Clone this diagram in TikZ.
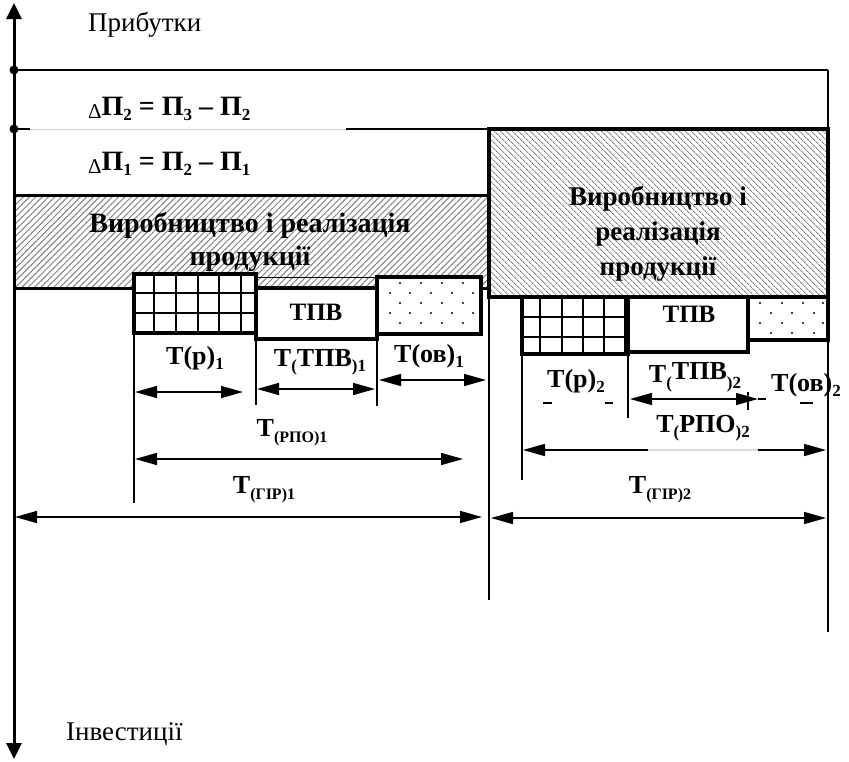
\documentclass[tikz,border=0pt]{standalone}
\usepackage{fontspec}
\setmainfont{Liberation Serif}
\usetikzlibrary{arrows.meta,patterns.meta}
\newcommand{\lsub}[1]{\raisebox{-0.45ex}{\fontsize{17}{17}\selectfont #1}}
\newcommand{\ssub}[1]{\raisebox{-0.5ex}{\fontsize{16}{16}\selectfont #1}}
\newcommand{\dlt}{\raisebox{-0.25ex}{\fontsize{21}{21}\selectfont\mdseries Δ}}
\tikzset{
  thickbox/.style={draw=black,line width=3.5pt,fill=white},
  boxedge/.style={draw=black,line width=3.5pt},
  gridln/.style={line width=1.8pt},
  dim/.style={line width=1.5pt,{Triangle[length=22pt,width=12pt]}-{Triangle[length=22pt,width=12pt]}},
  dimtk/.style={line width=1.5pt},
  lbl/.style={font=\fontsize{26}{26}\selectfont\bfseries,inner sep=0pt},
  boxtxt/.style={font=\fontsize{28}{28}\selectfont\bfseries,inner sep=0pt,anchor=base},
  plain/.style={font=\fontsize{27}{27}\selectfont,inner sep=0pt,anchor=base west},
  hatchL/.style={pattern={Lines[angle=45,distance=4.5pt,line width=1pt]},pattern color=gray},
  hatchR/.style={pattern={Lines[angle=-45,distance=4pt,line width=1pt]},pattern color=gray}
}
\begin{document}
\begin{tikzpicture}[x=1pt,y=-1pt]
\useasboundingbox (0,0) rectangle (849,761);
% hatched boxes
\draw[hatchL,line width=3pt] (14,195) rectangle (489,288);
\draw[hatchR,line width=3.5pt] (489,129) rectangle (828,297);
% top lines
\draw[line width=2pt] (14,70) -- (828,70);
\draw[line width=1.5pt] (828,70) -- (828,632);
\draw[line width=1.5pt] (489,288) -- (489,600);
\draw[line width=2pt] (14,129) -- (30,129);
\draw[gray!35,line width=1pt] (30,129) -- (346,129);
\draw[line width=2pt] (346,129) -- (489,129);
% axis
\coordinate (axtop) at (14,3);
\coordinate (axbot) at (14,759);
\draw[line width=3pt,{Triangle[length=16pt,width=15pt]}-{Triangle[length=16pt,width=15pt]}] (axbot) -- (axtop);
\fill (14,70) circle (4.5pt);
\fill (14,129) circle (4.5pt);
% texts top
\node[plain] (prib) at (88,31) {Прибутки};
\node[plain] (inv) at (66,740) {Інвестиції};
\node[plain,font=\fontsize{28}{28}\selectfont\bfseries] (d2) at (88,115) {\dlt П\lsub{2} = П\lsub{3} – П\lsub{2}};
\node[plain,font=\fontsize{28}{28}\selectfont\bfseries] (d1) at (88,170) {\dlt П\lsub{1} = П\lsub{2} – П\lsub{1}};
% box texts
\node[boxtxt] (vr1a) at (250,232) {Виробництво і реалізація};
\node[boxtxt] (vr1b) at (250,265) {продукції};
\node[boxtxt,font=\fontsize{27}{27}\selectfont\bfseries] (vr2a) at (658,205) {Виробництво і};
\node[boxtxt,font=\fontsize{27}{27}\selectfont\bfseries] (vr2b) at (658,240) {реалізація};
\node[boxtxt,font=\fontsize{27}{27}\selectfont\bfseries] (vr2c) at (658,275) {продукції};
% ---- group 1 small boxes
\draw[thickbox] (134,274) rectangle (256,333);
\foreach \x in {154,176,198,219,241} \draw[gridln] (\x,274) -- (\x,333);
\foreach \y in {293,313} \draw[gridln] (134,\y) -- (256,\y);
\draw[boxedge] (134,274) rectangle (256,333);
\draw[line width=1pt] (256,277) -- (377,277);
\draw[thickbox] (256,288) rectangle (377,339);
\node[boxtxt,font=\fontsize{25}{25}\selectfont\bfseries] (tpv1) at (316,320) {ТПВ};
\draw[thickbox] (377,277) rectangle (481,334);
\foreach \y/\s in {283/0,293/1,303/0,313/1,323/0}{
  \ifnum\s=0
    \foreach \x in {400,421,442,463} \fill (\x,\y) circle (1.1pt);
  \else
    \foreach \x in {390,410,431,452,473} \fill (\x,\y) circle (1.1pt);
  \fi}
% ---- group 2 small boxes
\draw[thickbox] (522,297) rectangle (628,354);
\foreach \x in {540,562,583,604} \draw[gridln] (\x,297) -- (\x,354);
\foreach \y in {317,337} \draw[gridln] (522,\y) -- (628,\y);
\draw[boxedge] (522,297) rectangle (628,354);
\draw[line width=1.5pt] (625,297) -- (625,354);
\draw[thickbox] (628,297) rectangle (748,352);
\node[boxtxt,font=\fontsize{25}{25}\selectfont\bfseries] (tpv2) at (689,322) {ТПВ};
\draw[thickbox] (748,297) rectangle (828,340);
\foreach \y/\s in {303/0,313/1,323/0,333/1}{
  \ifnum\s=0
    \foreach \x in {760,782,803,823} \fill (\x,\y) circle (1.1pt);
  \else
    \foreach \x in {771,792,814} \fill (\x,\y) circle (1.1pt);
  \fi}
% ---- ticks
\draw[dimtk] (134,333) -- (134,503);
\draw[dimtk] (256,339) -- (256,405);
\draw[dimtk] (377,334) -- (377,406);
\draw[dimtk] (522,354) -- (522,480);
\draw[dimtk] (628,354) -- (628,418);
\draw[dimtk] (748,392) -- (748,410);
% ---- dimension arrows group 1
\coordinate (a1l) at (135,392); \coordinate (a1r) at (243,392);
\draw[dim] (a1l) -- (a1r);
\coordinate (a2l) at (257,389); \coordinate (a2r) at (375,389);
\draw[dim] (a2l) -- (a2r);
\coordinate (a3l) at (379,380); \coordinate (a3r) at (486,380);
\draw[dim] (a3l) -- (a3r);
\coordinate (a4l) at (135,459); \coordinate (a4r) at (463,459);
\draw[dim] (a4l) -- (a4r);
\coordinate (a5l) at (15,517); \coordinate (a5r) at (482,517);
\draw[dim] (a5l) -- (a5r);
% ---- dimension arrows group 2
\coordinate (b2l) at (630,399); \coordinate (b2r) at (758,399);
\draw[dim] (b2l) -- (b2r);
\draw[dimtk] (758,399) -- (766,399);
\draw[dimtk] (543,403) -- (552,403);
\draw[dimtk] (605,403) -- (613,403);
\draw[dimtk] (800,403) -- (813,403);
\coordinate (b4l) at (523,450); \coordinate (b4r) at (826,450);
\draw[dim] (b4l) -- (b4r);
\draw[gray!30,line width=1.7pt] (648,450) -- (758,450);
\coordinate (b5l) at (491,518); \coordinate (b5r) at (826,518);
\draw[dim] (b5l) -- (b5r);
% ---- labels
\node[lbl] (tp1) at (195,358) {T(р)\lsub{1}};
\node[lbl] (ttpv1) at (320,362) {T\lsub{(}ТПВ\lsub{)1}};
\node[lbl] (tov1) at (429,356) {T(ов)\lsub{1}};
\node[lbl] (trpo1) at (292,433) {T\ssub{(РПО)1}};
\node[lbl] (tgir1) at (264,490) {T\ssub{(ГІР)1}};
\node[lbl] (tp2) at (576,381) {T(р)\lsub{2}};
\node[lbl] (ttpv2) at (695,377) {T\lsub{(}\raisebox{0.3ex}{ТПВ}\lsub{)2}};
\node[lbl] (tov2) at (806,385) {T(ов)\lsub{2}};
\node[lbl] (trpo2) at (703,428) {T\lsub{(}РПО\lsub{)2}};
\node[lbl] (tgir2) at (660,490) {T\ssub{(ГІР)2}};
\end{tikzpicture}
\end{document}
